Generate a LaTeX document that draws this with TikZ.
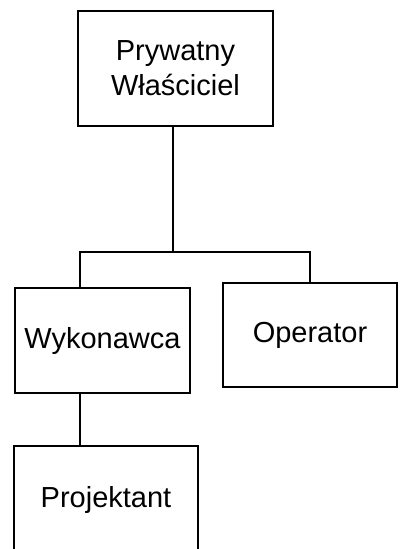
\documentclass[tikz,border=0pt]{standalone}
\usepackage{fontspec}
\setmainfont{Liberation Sans}
\begin{document}
\begin{tikzpicture}[x=1pt,y=-1pt,line width=1.5pt,
    unit/.style={draw,inner sep=0pt,align=center,font=\fontsize{29}{35}\selectfont}]
        \useasboundingbox (0,0) rectangle (404,549);

        % boxes
        \node[unit,minimum width=195pt,minimum height=115pt] (owner) at (175.5,68.5) {Prywatny\\Właściciel};
        \node[unit,minimum width=175pt,minimum height=105pt] (builder) at (102.5,340.5) {Wykonawca};
        \node[unit,minimum width=174pt,minimum height=104pt] (operator) at (310,335) {Operator};
        \node[unit,minimum width=184pt,minimum height=108pt] (designer) at (106,500) {Projektant};

        % tree lines
        \coordinate (hub) at (173,252);
        \draw (owner.south -| hub) -- (hub);
        \draw (hub) -| ([xshift=-22.5pt]builder.north);
        \draw (hub) -| (operator.north);
        \draw ([xshift=-22.5pt]builder.south) -- ([xshift=-22.5pt]builder.south |- designer.north);

    \end{tikzpicture}
\end{document}
